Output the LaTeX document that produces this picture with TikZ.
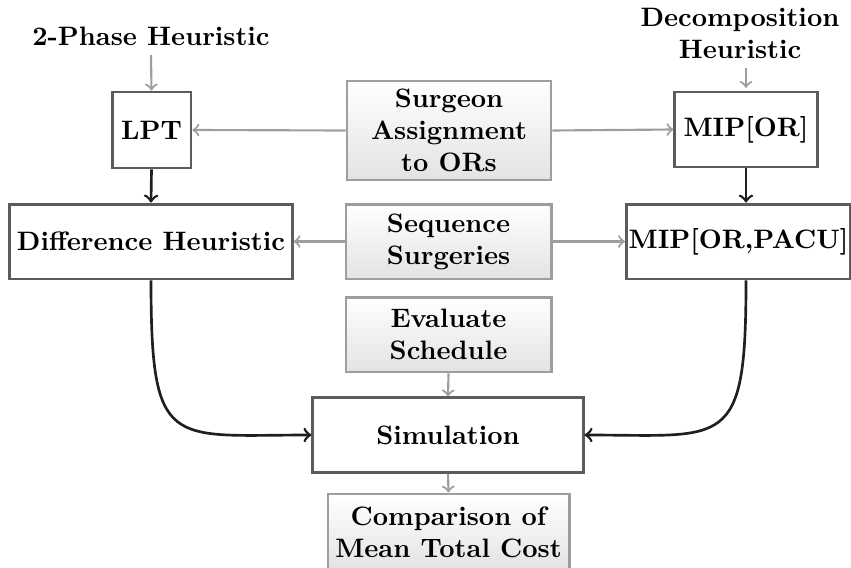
\documentclass[tikz,border=0pt]{standalone}
\usepackage{amsmath, amssymb}
\usetikzlibrary{arrows}
\definecolor{framegray}{gray}{0.36}
\definecolor{stepgray}{gray}{0.62}
\definecolor{flowblack}{gray}{0.12}
\begin{document}
\begin{tikzpicture}[x=0.375pt, y=-0.375pt,
				every node/.style={font=\bfseries, align=center, inner sep=0pt},
				method/.style={draw=framegray, line width=1.1pt, fill=white},
				stepbox/.style={draw=stepgray, line width=1.1pt, top color=white, bottom color=gray!22},
				feed/.style={->, draw=stepgray, line width=0.8pt},
				flow/.style={->, draw=flowblack, line width=1pt}]
				\useasboundingbox (0,0) rectangle (851,567);
				\node (twoph) at (151,36) {2-Phase Heuristic};
				\node (decomp) at (740,33) {Decomposition\\Heuristic};
				\node [method, minimum width=29.6pt, minimum height=28.5pt] (lpt) at (151.5,130) {LPT};
				\node [stepbox, minimum width=76.5pt, minimum height=37.1pt] (assign) at (449,130.5) {Surgeon\\Assignment\\to ORs};
				\node [method, minimum width=53.3pt, minimum height=28.1pt] (mipor) at (746,129.5) {MIP[OR]};
				\node [method, minimum width=105.8pt, minimum height=28.1pt] (diff) at (151,241.5) {Difference Heuristic};
				\node [stepbox, minimum width=76.9pt, minimum height=28.1pt] (seq) at (448.5,241.5) {Sequence\\Surgeries};
				\node [method, minimum width=84pt, minimum height=28.1pt] (mippacu) at (738.5,241.5) {MIP[OR,PACU]};
				\node [stepbox, minimum width=76.9pt, minimum height=28.1pt] (eval) at (448.5,334.5) {Evaluate\\Schedule};
				\node [method, minimum width=101.3pt, minimum height=27.8pt] (sim) at (448,435) {Simulation};
				\node [stepbox, minimum width=90.4pt, minimum height=28.5pt] (comp) at (448.5,532) {Comparison of\\Mean Total Cost};
				\draw [feed] (twoph.south) ++(0,9) -- (lpt.north);
				\draw [feed] (decomp.south) ++(6,9) -- ([yshift=1pt]mipor.north);
				\draw [feed] (assign.west) -- (lpt.east);
				\draw [feed] (assign.east) -- (mipor.west);
				\draw [feed] (seq.west) -- (diff.east);
				\draw [feed] (seq.east) -- (mippacu.west);
				\draw [feed] (eval.south) -- (sim.north);
				\draw [feed] (sim.south) -- (comp.north);
				\draw [flow] (lpt.south) -- (diff.north);
				\draw [flow] (mipor.south) -- (mipor.south |- mippacu.north);
				\draw [flow] (diff.south) .. controls +(0,171) and +(-142,0) .. (sim.west);
				\draw [flow] (mipor.south |- mippacu.south) .. controls +(0,171) and +(142,0) .. (sim.east);
			\end{tikzpicture}
\end{document}
